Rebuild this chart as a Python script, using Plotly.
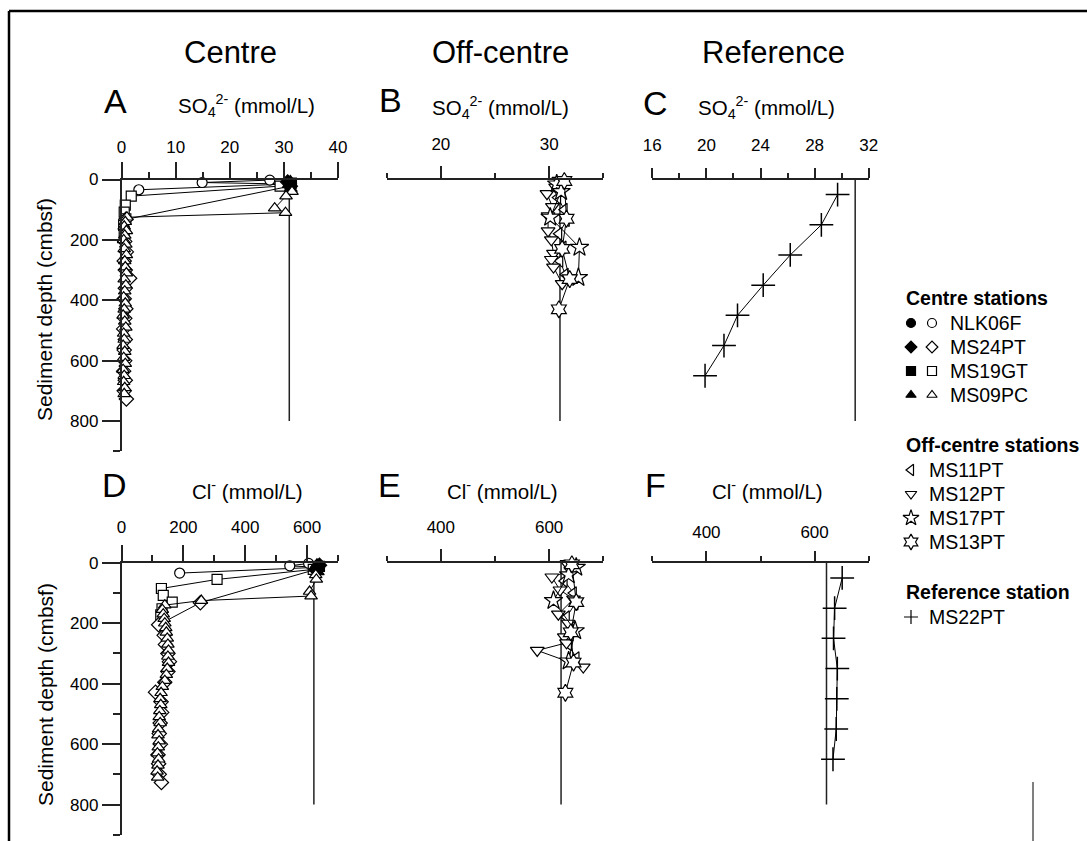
import plotly.graph_objects as go

W, H = 1087, 841
FONT = "Liberation Sans, Arial, Helvetica, sans-serif"
AX = "#222222"

# ------------------------------------------------------------------ data
# depth in cmbsf; "bw" = filled symbols, "pw" = open symbols
NLK06F_bw_depth = [15]
NLK06F_bw_so4 = [30.6]
NLK06F_bw_cl = [632]
NLK06F_pw_depth = [2, 10, 34]
NLK06F_pw_so4 = [27.4, 14.9, 3.2]
NLK06F_pw_cl = [605, 544, 188]

MS24PT_bw_depth = [8, 22]
MS24PT_bw_so4 = [30.7, 31.2]
MS24PT_bw_cl = [640, 628]
MS24PT_pw_depth = [132, 205, 240, 270, 300, 327, 360, 395, 428, 460, 495, 530, 565, 600, 635, 665, 700, 727]
MS24PT_pw_so4 = [0.8, 0.6, 0.9, 0.5, 0.7, 1.5, 0.7, 0.5, 0.8, 0.6, 0.4, 0.7, 0.5, 0.6, 0.4, 0.7, 0.5, 0.9]
MS24PT_pw_cl = [255, 120, 138, 142, 150, 155, 150, 140, 110, 128, 130, 125, 122, 126, 118, 120, 122, 129]

MS19GT_bw_depth = [12]
MS19GT_bw_so4 = [31.4]
MS19GT_bw_cl = [640]
MS19GT_pw_depth = [22, 55, 85, 108, 130, 152, 172]
MS19GT_pw_so4 = [29.3, 1.8, 0.7, 0.5, 0.8, 0.4, 0.5]
MS19GT_pw_cl = [620, 309, 129, 135, 164, 131, 127]

MS09PC_bw_depth = [5, 18, 30]
MS09PC_bw_so4 = [31.2, 30.9, 31.3]
MS09PC_bw_cl = [632, 630, 635]
MS09PC_pw_depth = [40, 55, 95, 110, 125, 140, 155, 170, 185, 200, 215, 230, 250, 270, 290, 310, 330, 350,
                   370, 390, 410, 430, 450, 470, 490, 510, 530, 550, 570, 590, 610, 630, 650, 670, 690, 710]
MS09PC_pw_so4 = [31.5, 30.4, 28.3, 30.3, 1.0, 0.7, 0.5, 0.9, 0.6, 0.4, 0.8, 0.5, 0.9, 0.6, 0.7, 0.9, 0.5, 0.8,
                 0.6, 0.4, 0.7, 0.5, 0.3, 0.6, 0.8, 0.4, 0.5, 0.3, 0.6, 0.4, 0.7, 0.3, 0.5, 0.4, 0.6, 0.5]
MS09PC_pw_cl = [628, 630, 608, 613, 258, 140, 132, 135, 138, 140, 143, 145, 148, 150, 152, 150, 152, 148,
                145, 140, 132, 128, 125, 127, 124, 122, 125, 120, 118, 122, 119, 116, 120, 118, 115, 117]

# Off-centre stations
MS11PT_depth = [20, 60, 100, 135, 180, 225, 270, 315]
MS11PT_so4 = [31.2, 30.8, 31.4, 31.6, 30.9, 31.3, 31.0, 31.5]
MS11PT_cl = [640, 628, 645, 648, 632, 640, 636, 650]

MS12PT_depth = [3, 25, 47, 90, 120, 170, 200, 245, 265, 290, 345]
MS12PT_so4 = [30.9, 30.6, 29.8, 30.3, 29.9, 29.9, 30.2, 30.4, 30.2, 30.4, 31.2]
MS12PT_cl = [633, 640, 605, 620, 645, 617, 635, 628, 632, 578, 663]

MS17PT_depth = [15, 40, 125, 225, 325]
MS17PT_so4 = [30.7, 31.1, 30.1, 32.8, 32.7]
MS17PT_cl = [650, 636, 608, 648, 636]

MS13PT_depth = [5, 130, 230, 330, 430]
MS13PT_so4 = [31.4, 31.6, 31.2, 31.9, 30.9]
MS13PT_cl = [642, 650, 640, 645, 630]

# Reference station
MS22PT_depth = [50, 150, 250, 350, 450, 550, 650]
MS22PT_so4 = [29.7, 28.5, 26.2, 24.2, 22.3, 21.3, 19.9]
MS22PT_cl = [651, 637, 635, 642, 641, 640, 634]

# seawater reference values
SW_SO4 = 31.0
SW_CL = 622
REF_DEPTH = [0, 800]

# ------------------------------------------------------------------ helpers
def xd(p0, p1):
    return [p0 / W, p1 / W]


def yd(top, bottom):
    return [1 - bottom / H, 1 - top / H]


fig = go.Figure()


def ref_line(xa, ya, val):
    fig.add_trace(go.Scatter(x=[val, val], y=REF_DEPTH, mode="lines",
                             line=dict(color="#222", width=1.5),
                             xaxis=xa, yaxis=ya, showlegend=False, hoverinfo="skip"))


def centre_trace(xa, ya, bw_d, bw_v, pw_d, pw_v, sym, size):
    pts = [(d, v, True) for d, v in zip(bw_d, bw_v)] + [(d, v, False) for d, v in zip(pw_d, pw_v)]
    pts.sort(key=lambda p: p[0])
    fig.add_trace(go.Scatter(
        x=[p[1] for p in pts], y=[p[0] for p in pts], mode="lines+markers",
        line=dict(color="black", width=1),
        marker=dict(symbol=sym, size=size,
                    color=["black" if p[2] else "white" for p in pts],
                    line=dict(color="black", width=1.2)),
        cliponaxis=False, xaxis=xa, yaxis=ya, showlegend=False))


def open_trace(xa, ya, depth, vals, sym, size):
    fig.add_trace(go.Scatter(
        x=vals, y=depth, mode="lines+markers",
        line=dict(color="black", width=1),
        marker=dict(symbol=sym, size=size, color="white",
                    line=dict(color="black", width=1.2)),
        cliponaxis=False, xaxis=xa, yaxis=ya, showlegend=False))


def cross_trace(xa, ya, depth, vals):
    fig.add_trace(go.Scatter(
        x=vals, y=depth, mode="lines+markers",
        line=dict(color="black", width=1),
        marker=dict(symbol="cross-thin", size=17, color="black",
                    line=dict(color="black", width=1.5)),
        cliponaxis=False, xaxis=xa, yaxis=ya, showlegend=False))


# ------------------------------------------------------------------ traces
for (xa, ya, key, ref) in [("x", "y", "so4", SW_SO4), ("x4", "y4", "cl", SW_CL)]:
    ref_line(xa, ya, ref)
    g = globals()
    for name, sym, size in [("NLK06F", "circle", 10), ("MS19GT", "square", 10),
                            ("MS24PT", "diamond", 11), ("MS09PC", "triangle-up", 11)]:
        centre_trace(xa, ya, g[name + "_bw_depth"], g[name + "_bw_" + key],
                     g[name + "_pw_depth"], g[name + "_pw_" + key], sym, size)

for (xa, ya, key, ref) in [("x2", "y2", "so4", SW_SO4), ("x5", "y5", "cl", SW_CL)]:
    ref_line(xa, ya, ref)
    g = globals()
    for name, sym, size in [("MS11PT", "triangle-left", 11), ("MS12PT", "triangle-down", 12),
                            ("MS17PT", "star", 14), ("MS13PT", "hexagram", 13)]:
        open_trace(xa, ya, g[name + "_depth"], g[name + "_" + key], sym, size)

ref_line("x3", "y3", SW_SO4)
cross_trace("x3", "y3", MS22PT_depth, MS22PT_so4)
ref_line("x6", "y6", SW_CL)
cross_trace("x6", "y6", MS22PT_depth, MS22PT_cl)

# ------------------------------------------------------------------ axes
TICKFONT = dict(size=17, color="black", family=FONT)
TOP_ROW = yd(179.5, 451.2)
BOT_ROW = yd(562.8, 834.8)
COL1 = xd(121.5, 338)
COL2 = xd(386.7, 603.3)
COL3 = xd(652.3, 868.7)


def xaxis_cfg(domain, rng, major, minor, anchor, ticklen, minorlen, standoff):
    return dict(domain=domain, range=rng, anchor=anchor, side="top",
                showline=True, linecolor=AX, linewidth=1.5,
                ticks="outside", tickmode="array", tickvals=major,
                ticklen=ticklen, tickwidth=1.5, tickcolor=AX,
                minor=dict(tickmode="array", tickvals=minor, ticklen=minorlen,
                           tickwidth=1.5, tickcolor=AX, ticks="outside", showgrid=False),
                showgrid=False, zeroline=False, tickfont=TICKFONT, automargin=False,
                ticklabelstandoff=standoff, fixedrange=True)


def yaxis_cfg(domain, anchor, visible, minor):
    d = dict(domain=domain, range=[900, 0], anchor=anchor, fixedrange=True,
             showgrid=False, zeroline=False, automargin=False)
    if not visible:
        d.update(visible=False)
        return d
    d.update(showline=True, linecolor=AX, linewidth=1.5, ticks="outside",
             tickmode="array", tickvals=[0, 200, 400, 600, 800],
             ticklen=18, tickwidth=1.5, tickcolor=AX, tickfont=TICKFONT,
             ticklabelstandoff=0,
             minor=dict(tickmode="array", tickvals=minor, ticklen=7, tickwidth=1.5,
                        tickcolor=AX, ticks="outside", showgrid=False))
    return d


fig.update_layout(
    xaxis=xaxis_cfg(COL1, [0, 40], [0, 10, 20, 30, 40], [5, 15, 25, 35], "y", 16, 6, 2),
    xaxis2=xaxis_cfg(COL2, [15, 35], [20, 30], [15, 25, 35], "y2", 12, 5, 9),
    xaxis3=xaxis_cfg(COL3, [16, 32], [16, 20, 24, 28, 32], [18, 22, 26, 30], "y3", 10, 5, 10),
    xaxis4=xaxis_cfg(COL1, [0, 700], [0, 200, 400, 600], [100, 300, 500, 700], "y4", 16, 6, 5),
    xaxis5=xaxis_cfg(COL2, [300, 700], [400, 600], [300, 500, 700], "y5", 12, 5, 9),
    xaxis6=xaxis_cfg(COL3, [300, 700], [400, 600], [300, 500, 700], "y6", 10, 5, 6),
    yaxis=yaxis_cfg(TOP_ROW, "x", True, [900]),
    yaxis2=yaxis_cfg(TOP_ROW, "x2", False, None),
    yaxis3=yaxis_cfg(TOP_ROW, "x3", False, None),
    yaxis4=yaxis_cfg(BOT_ROW, "x4", True, [100, 300, 500, 700, 900]),
    yaxis5=yaxis_cfg(BOT_ROW, "x5", False, None),
    yaxis6=yaxis_cfg(BOT_ROW, "x6", False, None),
    xaxis7=dict(domain=[0, 1], range=[0, W], visible=False, fixedrange=True, anchor="y7"),
    yaxis7=dict(domain=[0, 1], range=[H, 0], visible=False, fixedrange=True, anchor="x7"),
)

# ------------------------------------------------------------------ legend (drawn)
LEG_CENTRE = [("NLK06F", "circle", 323), ("MS24PT", "diamond", 347),
              ("MS19GT", "square", 371), ("MS09PC", "triangle-up", 395)]
LEG_OFF = [("MS11PT", "triangle-left", 470), ("MS12PT", "triangle-down", 494),
           ("MS17PT", "star", 518), ("MS13PT", "hexagram", 542)]

anns = []


def ann(text, x, y, size, xanchor="center", bold=False):
    if bold:
        text = "<b>" + text + "</b>"
    anns.append(dict(text=text, x=x / W, y=1 - y / H, xref="paper", yref="paper",
                     xanchor=xanchor, yanchor="middle", showarrow=False,
                     font=dict(size=size, color="black", family=FONT)))


ann("Centre stations", 904, 298, 19.5, "left", True)
for name, sym, yy in LEG_CENTRE:
    fig.add_trace(go.Scatter(x=[911, 932], y=[yy, yy], mode="markers",
                             marker=dict(symbol=sym, size=9, color=["black", "white"],
                                         line=dict(color="black", width=1.2)),
                             xaxis="x7", yaxis="y7", showlegend=False, hoverinfo="skip"))
    ann(name, 948, yy, 19.5, "left")

ann("Off-centre stations", 904, 445, 19.5, "left", True)
for name, sym, yy in LEG_OFF:
    fig.add_trace(go.Scatter(x=[911], y=[yy], mode="markers",
                             marker=dict(symbol=sym, size=10 if "star" not in sym and "hex" not in sym else 12,
                                         color="white", line=dict(color="black", width=1.2)),
                             xaxis="x7", yaxis="y7", showlegend=False, hoverinfo="skip"))
    ann(name, 927, yy, 19.5, "left")

ann("Reference station", 904, 592, 19.5, "left", True)
fig.add_trace(go.Scatter(x=[911], y=[617], mode="markers",
                         marker=dict(symbol="cross-thin", size=10, color="black",
                                     line=dict(color="black", width=1.2)),
                         xaxis="x7", yaxis="y7", showlegend=False, hoverinfo="skip"))
ann("MS22PT", 927, 617, 19.5, "left")

ann("Centre", 230, 52, 31)
ann("Off-centre", 500, 52, 31)
ann("Reference", 773, 52, 31)

for letter, x, y in [("A", 115, 101), ("B", 390, 100), ("C", 655, 103),
                     ("D", 114, 485), ("E", 389, 485), ("F", 655, 485)]:
    ann(letter, x, y, 34)

SO4_T = "SO<sub>4</sub><sup>2-</sup> (mmol/L)"
CL_T = "Cl<sup>-</sup> (mmol/L)"
ann(SO4_T, 246, 106, 20.5)
ann(SO4_T, 500, 108, 20.5)
ann(SO4_T, 766, 108, 20.5)
ann(CL_T, 247, 490, 20.5)
ann(CL_T, 502, 490, 20.5)
ann(CL_T, 767, 490, 20.5)

for yy in (310, 695):
    anns.append(dict(text="Sediment depth (cmbsf)", x=45 / W, y=1 - yy / H, xref="paper", yref="paper",
                     textangle=-90, showarrow=False, xanchor="center", yanchor="middle",
                     font=dict(size=21, color="black", family=FONT)))

shapes = [
    dict(type="line", xref="paper", yref="paper", x0=9 / W, x1=1, y0=1 - 11 / H, y1=1 - 11 / H,
         line=dict(color="black", width=2.5)),
    dict(type="line", xref="paper", yref="paper", x0=9 / W, x1=9 / W, y0=0, y1=1 - 11 / H,
         line=dict(color="black", width=2.5)),
    dict(type="line", xref="paper", yref="paper", x0=1033 / W, x1=1033 / W, y0=0, y1=1 - 782 / H,
         line=dict(color="black", width=1)),
]

fig.update_layout(
    width=W, height=H, margin=dict(l=0, r=0, t=0, b=0, pad=0, autoexpand=False),
    paper_bgcolor="white", plot_bgcolor="rgba(0,0,0,0)",
    annotations=anns, shapes=shapes, showlegend=False,
    font=dict(family=FONT, color="black"),
)

fig.write_html("out.html", config={"displayModeBar": False},
               post_script="document.body.style.margin='0';document.body.style.overflow='hidden';")
